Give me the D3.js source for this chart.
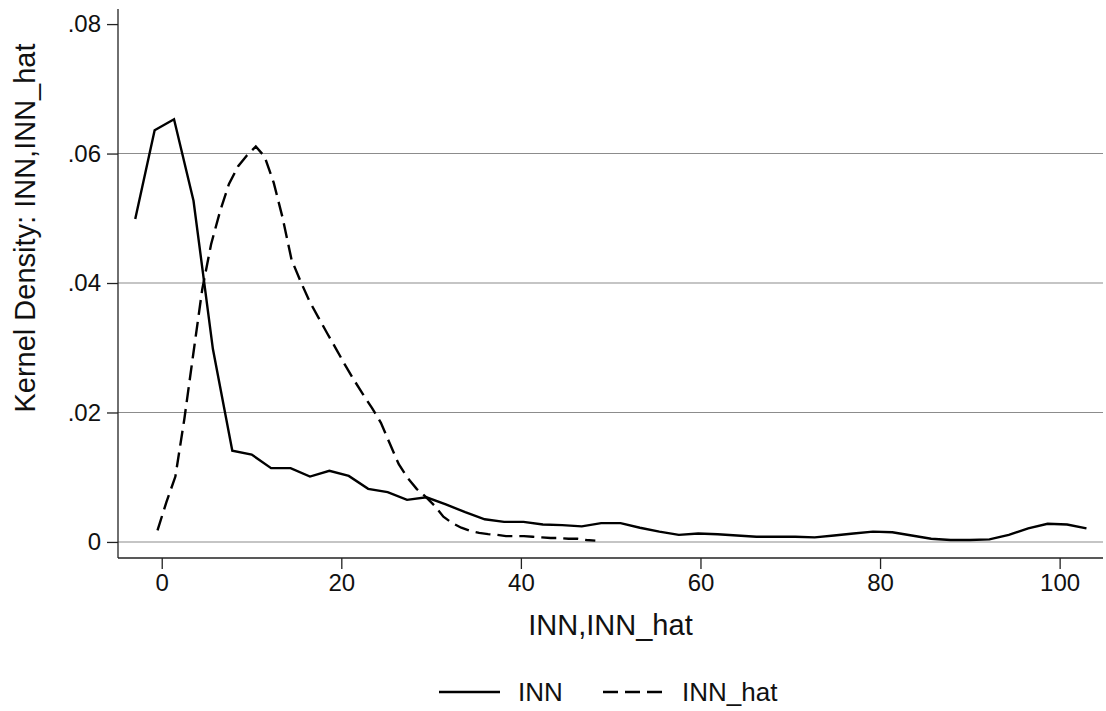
<!DOCTYPE html>
<html>
<head>
<meta charset="utf-8">
<script src="https://cdn.jsdelivr.net/npm/d3@7"></script>
<style>
  html, body { margin: 0; padding: 0; background: #fff; }
  svg { display: block; font-family: "Liberation Sans", Arial, sans-serif; }
</style>
</head>
<body>
<svg id="chart" width="1106" height="711"></svg>
<script>
// INN (solid) kernel density estimate, 50 evaluation points
const innX = [-2.95, -0.79, 1.37, 3.54, 5.70, 7.86, 10.02, 12.18, 14.35, 16.51,
  18.67, 20.83, 22.99, 25.16, 27.32, 29.48, 31.64, 33.80, 35.97, 38.13,
  40.29, 42.45, 44.61, 46.78, 48.94, 51.10, 53.26, 55.42, 57.59, 59.75,
  61.91, 64.07, 66.23, 68.40, 70.56, 72.72, 74.88, 77.04, 79.21, 81.37,
  83.53, 85.69, 87.85, 90.02, 92.18, 94.34, 96.50, 98.66, 100.83, 102.99];
const innY = [0.0499, 0.0636, 0.0653, 0.0527, 0.0298, 0.0141, 0.0135, 0.0114, 0.0114, 0.0101,
  0.0110, 0.0102, 0.0082, 0.0077, 0.0065, 0.0069, 0.0058, 0.0046, 0.0035, 0.0031,
  0.0031, 0.0027, 0.0026, 0.0024, 0.0029, 0.0029, 0.0022, 0.0016, 0.0011, 0.0013,
  0.0012, 0.0010, 0.0008, 0.0008, 0.0008, 0.0007, 0.0010, 0.0013, 0.0016, 0.0015,
  0.0010, 0.0005, 0.0003, 0.0003, 0.0004, 0.0011, 0.0021, 0.0028, 0.0027, 0.0021];

// INN_hat (dashed) kernel density estimate, 50 evaluation points
const hatX = [-0.47, 0.53, 1.52, 2.52, 3.51, 4.51, 5.50, 6.50, 7.49, 8.49,
  9.48, 10.48, 11.47, 12.47, 13.46, 14.46, 15.45, 16.45, 17.44, 18.44,
  19.43, 20.43, 21.42, 22.42, 23.41, 24.41, 25.40, 26.40, 27.39, 28.39,
  29.38, 30.38, 31.37, 32.37, 33.36, 34.36, 35.35, 36.35, 37.34, 38.34,
  39.33, 40.33, 41.32, 42.32, 43.31, 44.31, 45.30, 46.30, 47.29, 48.29];
const hatY = [0.0018, 0.0062, 0.0101, 0.0190, 0.0290, 0.0390, 0.0460, 0.0511, 0.0553, 0.0580,
  0.0597, 0.0611, 0.0595, 0.0555, 0.0501, 0.0436, 0.0403, 0.0372, 0.0347, 0.0322,
  0.0298, 0.0273, 0.0250, 0.0228, 0.0207, 0.0184, 0.0152, 0.0120, 0.0099, 0.0082,
  0.0070, 0.0056, 0.0039, 0.0029, 0.0022, 0.0017, 0.0014, 0.0012, 0.0011, 0.0009,
  0.0009, 0.0009, 0.0008, 0.0007, 0.0006, 0.0006, 0.0005, 0.0005, 0.0003, 0.0002];

const xTicks = [0, 20, 40, 60, 80, 100];
const yTicks = [0, 0.02, 0.04, 0.06, 0.08];
const yTickLabels = ["0", ".02", ".04", ".06", ".08"];
const gridTicks = [0, 0.02, 0.04, 0.06];
const seriesNames = ["INN", "INN_hat"];
const xTitle = "INN,INN_hat";
const yTitle = "Kernel Density: INN,INN_hat";

const svg = d3.select("#chart");
const mLeft = 118, mRight = 1103, mTop = 9, mBottom = 558;

const x = d3.scaleLinear().domain([-4.87, 104.83]).range([mLeft, mRight]);
const y = d3.scaleLinear().domain([-0.00248, 0.08233]).range([mBottom, mTop]);

// gridlines
svg.append("g").selectAll("line").data(gridTicks).join("line")
  .attr("x1", mLeft).attr("x2", mRight)
  .attr("y1", d => y(d)).attr("y2", d => y(d))
  .attr("stroke", "#8c8c8c").attr("stroke-width", 1.1);

// axes
const xAxis = d3.axisBottom(x).tickValues(xTicks).tickSize(11).tickPadding(5).tickFormat(d3.format("d"));
const gx = svg.append("g").attr("transform", `translate(0,${mBottom})`).call(xAxis);
gx.select(".domain").attr("d", `M${mLeft},0H${mRight}`);

const yAxis = d3.axisLeft(y).tickValues(yTicks).tickSize(11).tickPadding(6)
  .tickFormat((d, i) => yTickLabels[i]);
const gy = svg.append("g").attr("transform", `translate(${mLeft},0)`).call(yAxis);
gy.select(".domain").attr("d", `M0,${mTop}V${mBottom}`);

[gx, gy].forEach(g => {
  g.selectAll(".domain, .tick line").attr("stroke", "#222").attr("stroke-width", 1.3);
  g.selectAll("text").attr("font-size", 24).attr("fill", "#111")
    .attr("font-family", "Liberation Sans, Arial, sans-serif");
});

// titles
svg.append("text").attr("x", (mLeft + mRight) / 2).attr("y", 635)
  .attr("text-anchor", "middle").attr("font-size", 29).attr("fill", "#111").text(xTitle);
svg.append("text").attr("transform", "translate(35,228) rotate(-90)")
  .attr("text-anchor", "middle").attr("font-size", 29).attr("fill", "#111").text(yTitle);

// curves
const line = d3.line().x(d => x(d[0])).y(d => y(d[1]));
const innData = innX.map((v, i) => [v, innY[i]]);
const hatData = hatX.map((v, i) => [v, hatY[i]]);

svg.append("path").datum(innData).attr("d", line)
  .attr("fill", "none").attr("stroke", "#000").attr("stroke-width", 2.4)
  .attr("stroke-linejoin", "miter");
svg.append("path").datum(hatData).attr("d", line)
  .attr("fill", "none").attr("stroke", "#000").attr("stroke-width", 2.4)
  .attr("stroke-dasharray", "15,7");

// legend
const lg = svg.append("g");
const legendY = 692;
lg.append("line").attr("x1", 439).attr("x2", 500).attr("y1", legendY).attr("y2", legendY)
  .attr("stroke", "#000").attr("stroke-width", 2.4);
lg.append("text").attr("x", 518).attr("y", 701).attr("font-size", 26).attr("fill", "#111").text(seriesNames[0]);
lg.append("line").attr("x1", 603).attr("x2", 663).attr("y1", legendY).attr("y2", legendY)
  .attr("stroke", "#000").attr("stroke-width", 2.4).attr("stroke-dasharray", "15,7");
lg.append("text").attr("x", 682).attr("y", 701).attr("font-size", 26).attr("fill", "#111").text(seriesNames[1]);
</script>
</body>
</html>
